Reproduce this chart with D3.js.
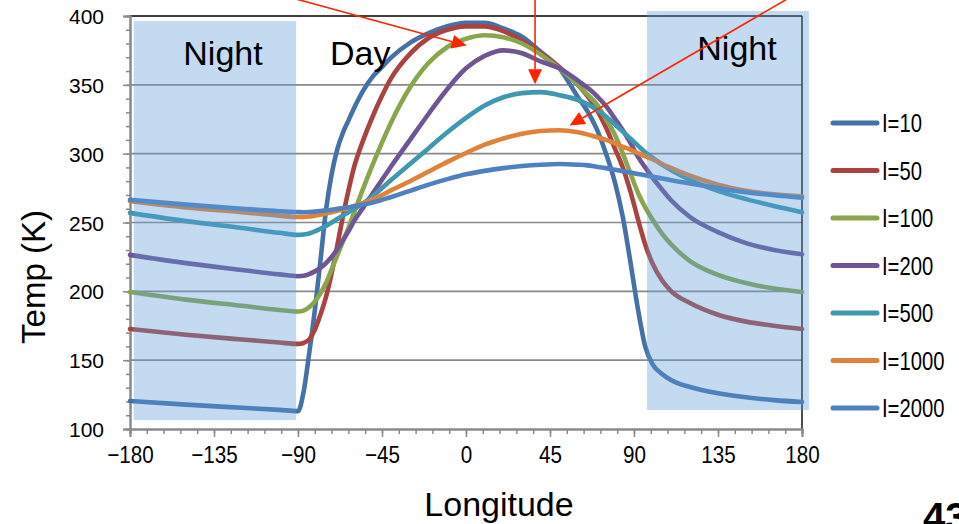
<!DOCTYPE html>
<html>
<head>
<meta charset="utf-8">
<script src="https://cdn.jsdelivr.net/npm/d3@7"></script>
<style>
  html, body { margin: 0; padding: 0; background: #ffffff; }
  svg { display: block; }
</style>
</head>
<body>
<svg id="chart" width="959" height="524"></svg>
<script>
// ---- data ----
const lons = [-180,-150,-120,-100,-90,-87,-84,-81,-78,-75,-72,-69,-66,-63,-60,-55,-50,-45,-40,-30,-20,-10,0,10,20,30,40,50,60,65,70,75,80,84,88,92,96,100,105,110,120,135,150,165,180];

const seriesNames = ["I=10","I=50","I=100","I=200","I=500","I=1000","I=2000"];

const tempI10 = [120.3,117.7,115.4,113.9,113,127,155,186,222,259,285,303,315,324,333,346,356,363,370,380.5,387.5,392.5,395,395,391,385,374,362,341,331,318,300,278,254,222,188,160,147,140,135.5,130.5,126,123,121,119.6];
const tempI50 = [172.6,168.5,165,162.8,161.8,162.5,165,172,183,196,213,233,254,273,290,310,327,342,355,372.5,384,390,392.5,392.5,389,382,373,363,350,342,332,319,303,290,273,253,234,220,208,200,191.5,183,178,175,172.6];
const tempI100 = [199.5,194,189.5,186.5,185.3,186,188.5,192.5,198.5,206,216,226,236,246,257,275,292,308,323,348,366,377.5,383.5,386,384.5,380,372,362,350,343,336,325,313,300,286,272,261,252,242,234,222,212,206,202,199.5];
const tempI200 = [226.5,220.5,215.5,212.3,211,211.3,212.5,214.5,217,220.5,225,230.5,237,243.5,251,261,271,281,291,310,329,347,362,371,375,373,367,362,353,348,342,334.5,325,317,308,298,290,282.5,274,266,254,243,235,230,227];
const tempI500 = [257,251,246,242.5,241,241.3,242,243.5,245.5,247.5,250,252.5,255,257.5,260,264,269,275,281,292.5,304,315.5,326,335,341,344,344.7,342.5,339,336,332,327,321,316,311,306,301,297,292,288,281,273,267,262,257.5];
const tempI1000 = [265.5,261,257.5,255,254,254,254.3,255,255.7,256.5,257.5,258.5,259.5,260.5,262,264,267,270,273.5,280,287,294,300.5,306.5,311,314.5,316.5,317,315.5,314,312,310,307.5,305,303,300.5,298,296,292.5,289.5,284,277.5,273,270.5,269];
const tempI2000 = [266.5,263,260,258.2,257.6,257.5,257.6,257.9,258.3,258.8,259.3,259.9,260.5,261,261.8,263,264.5,266.5,268.5,273,277.5,281.5,285,287.5,289.5,291,292,292.5,292,291.5,290.5,289.5,288.3,287.3,286.3,285.3,284.3,283.3,282,280.7,278.3,275,272,269.8,268];

const xTicks = [-180,-135,-90,-45,0,45,90,135,180];
const yTicks = [100,150,200,250,300,350,400];

// shaded night regions in data units [lonStart, lonEnd, tempTop, tempBottom]
const nightLeft  = [-178, -91, 396.3, 106.5];
const nightRight = [97, 183.7, 403.6, 113.8];

// annotation arrows in data units: [fromLon, fromTemp, toLon, toTemp]
const arrowsData = [
  [-99.6, 415.5, 0.4, 378.5],
  [37, 415.2, 37, 350.5],
  [172, 412.3, 55.5, 320.4]
];

// ---- drawing ----
const allTemps = [tempI10, tempI50, tempI100, tempI200, tempI500, tempI1000, tempI2000];
const colors = ["#4671a8","#aa4340","#89a64c","#6e5594","#3e98b1","#e0833a","#4f81c0"];

const svg = d3.select("#chart");
const W = 959, H = 524;
svg.append("rect").attr("width", W).attr("height", H).attr("fill", "#fff");

const x = d3.scaleLinear().domain([-180, 180]).range([130, 802]);
const y = d3.scaleLinear().domain([100, 400]).range([429, 16]);

const gridColor = "#8a8a8a";
const baseFont = "'Liberation Sans', Arial, sans-serif";

// gridlines
svg.append("g").selectAll("line")
  .data(yTicks.filter(t => t > 100 && t < 400))
  .join("line")
  .attr("x1", x(-180)).attr("x2", x(180))
  .attr("y1", d => y(d)).attr("y2", d => y(d))
  .attr("stroke", gridColor).attr("stroke-width", 1.6);

// plot border top/right (black)
svg.append("line").attr("x1", x(-180)).attr("x2", x(180)).attr("y1", y(400)).attr("y2", y(400))
  .attr("stroke", "#000").attr("stroke-width", 1.6);
svg.append("line").attr("x1", x(180)).attr("x2", x(180)).attr("y1", y(400)).attr("y2", y(100))
  .attr("stroke", "#000").attr("stroke-width", 1.4);

// axes (gray) with major/minor ticks
const yAxisMajor = d3.axisLeft(y).tickValues(yTicks).tickSize(7).tickFormat(d3.format("d"));
const yAxisMinor = d3.axisLeft(y).tickValues(d3.range(100, 401, 10)).tickSize(4).tickFormat("");
const xAxisMajor = d3.axisBottom(x).tickValues(xTicks).tickSize(8).tickFormat(d => d < 0 ? "\u2212" + Math.abs(d) : String(d));
const xAxisMinor = d3.axisBottom(x).tickValues(d3.range(-180, 181, 9)).tickSize(5).tickFormat("");

const gyMinor = svg.append("g").attr("transform", `translate(${x(-180)},0)`).call(yAxisMinor);
const gy = svg.append("g").attr("transform", `translate(${x(-180)},0)`).call(yAxisMajor);
const gxMinor = svg.append("g").attr("transform", `translate(0,${y(100)})`).call(xAxisMinor);
const gx = svg.append("g").attr("transform", `translate(0,${y(100)})`).call(xAxisMajor);

[gyMinor, gy, gxMinor, gx].forEach(g => {
  g.selectAll("path.domain").attr("stroke", gridColor).attr("stroke-width", 2);
  g.selectAll(".tick line").attr("stroke", gridColor).attr("stroke-width", 1.5);
});
gy.selectAll(".tick text")
  .attr("font-family", baseFont)
  .attr("font-size", 21).attr("fill", "#000").attr("x", -26).attr("dy", "0.36em");
gx.selectAll(".tick text")
  .attr("font-family", baseFont)
  .attr("font-size", 24).attr("fill", "#000").attr("y", 17).attr("dy", "0.71em")
  .attr("transform", "scale(0.86,1)");

// series lines
const line = d3.line()
  .x((d, i) => x(lons[i]))
  .y(d => y(d))
  .curve(d3.curveMonotoneX);

svg.append("g").selectAll("path")
  .data(allTemps)
  .join("path")
  .attr("d", d => line(d))
  .attr("fill", "none")
  .attr("stroke", (d, i) => colors[i])
  .attr("stroke-width", 4.6)
  .attr("stroke-linejoin", "round")
  .attr("stroke-linecap", "round");

// translucent night overlays
[nightLeft, nightRight].forEach(r => {
  svg.append("rect")
    .attr("x", x(r[0])).attr("y", y(r[2]))
    .attr("width", x(r[1]) - x(r[0])).attr("height", y(r[3]) - y(r[2]))
    .attr("fill", "rgb(91,155,213)").attr("fill-opacity", 0.37);
});

// region labels
svg.append("text").attr("x", 223).attr("y", 65).attr("text-anchor", "middle")
  .attr("font-family", baseFont).attr("font-size", 34).text("Night");
svg.append("text").attr("x", 330).attr("y", 65).attr("text-anchor", "start")
  .attr("font-family", baseFont).attr("font-size", 34).text("Day");
svg.append("text").attr("x", 737).attr("y", 60).attr("text-anchor", "middle")
  .attr("font-family", baseFont).attr("font-size", 34).text("Night");

// axis titles
svg.append("text")
  .attr("transform", `translate(45,277) rotate(-90)`)
  .attr("text-anchor", "middle")
  .attr("font-family", baseFont).attr("font-size", 33).text("Temp (K)");
svg.append("text").attr("x", 499).attr("y", 516).attr("text-anchor", "middle")
  .attr("font-family", baseFont).attr("font-size", 34).text("Longitude");

// page number (partially cut in the original)
svg.append("text").attr("x", 923).attr("y", 531)
  .attr("font-family", baseFont).attr("font-size", 40).attr("font-weight", "bold").text("43");

// legend
const legend = svg.append("g");
seriesNames.forEach((name, i) => {
  const cy = 123 + i * 47.5;
  legend.append("line").attr("x1", 833).attr("x2", 877).attr("y1", cy).attr("y2", cy)
    .attr("stroke", colors[i]).attr("stroke-width", 5).attr("stroke-linecap", "round");
  legend.append("text")
    .attr("transform", `translate(882,${cy + 9}) scale(0.81,1)`)
    .attr("font-family", baseFont).attr("font-size", 25).attr("fill", "#000").text(name);
});

// annotation arrows
const arrowColor = "#ff2400";
arrowsData.forEach(a => {
  const x1 = x(a[0]), y1 = y(a[1]), x2 = x(a[2]), y2 = y(a[3]);
  const ang = Math.atan2(y2 - y1, x2 - x1);
  const L = 15, Wd = 7;
  const bx = x2 - L * Math.cos(ang), by = y2 - L * Math.sin(ang);
  svg.append("line").attr("x1", x1).attr("y1", y1).attr("x2", bx).attr("y2", by)
    .attr("stroke", arrowColor).attr("stroke-width", 1.6);
  const p1 = [bx + Wd * Math.sin(ang), by - Wd * Math.cos(ang)];
  const p2 = [bx - Wd * Math.sin(ang), by + Wd * Math.cos(ang)];
  svg.append("path").attr("d", `M${x2},${y2}L${p1[0]},${p1[1]}L${p2[0]},${p2[1]}Z`)
    .attr("fill", arrowColor);
});
</script>
</body>
</html>
